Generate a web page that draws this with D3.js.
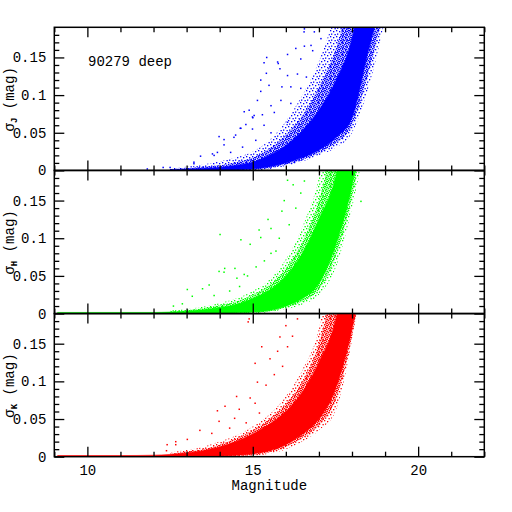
<!DOCTYPE html>
<html><head><meta charset="utf-8">
<script src="https://cdn.jsdelivr.net/npm/d3@7"></script>
<style>body{margin:0;background:#fff}</style>
</head><body>
<script>
// ---- data ----
const magGrid = [9.1, 10, 11, 12, 12.5, 13, 13.5, 14, 14.5, 15, 15.5, 16, 16.5, 17, 17.5, 18, 18.5, 19, 19.5];

// J band (sigma_J): dense core, inner scatter and outer scatter envelopes
const jCoreLo = [null,null,null,null, 0, 0, 0, 0, 0.001, 0.002, 0.005, 0.01, 0.017, 0.027, 0.043, 0.07, 0.16, 0.24, null];
const jCoreHi = [null,null,null,null, 0.001, 0.002, 0.003, 0.004, 0.007, 0.011, 0.02, 0.033, 0.053, 0.08, 0.118, 0.175, 0.3, 0.35, null];
const jMidLo  = [null,null,null,null, 0, 0, 0, 0, 0, 0.001, 0.003, 0.008, 0.014, 0.023, 0.036, 0.06, 0.13, 0.22, null];
const jMidHi  = [null,null,null,null, 0.002, 0.003, 0.005, 0.007, 0.011, 0.017, 0.029, 0.047, 0.073, 0.11, 0.16, 0.24, 0.35, 0.4, null];
const jHaloLo = [null,null,null,null, 0, 0, 0, 0, 0, 0, 0.002, 0.006, 0.012, 0.02, 0.03, 0.05, 0.11, 0.2, null];
const jHaloHi = [null,null,null,null, 0.003, 0.005, 0.008, 0.012, 0.017, 0.025, 0.04, 0.065, 0.1, 0.145, 0.21, 0.3, 0.4, 0.45, null];
const jOutliers = [[15.42,0.150],[15.82,0.135],[15.41,0.129],[15.88,0.111],[15.24,0.105],[15.49,0.113],[15.55,0.086],[15.04,0.073],[15.29,0.074],[14.64,0.056],[14.79,0.061],[14.13,0.041],[14.43,0.044],[13.98,0.045],[13.78,0.022],[13.42,0.019],[13.22,0.011],[16.35,0.128],[16.15,0.089],[16.55,0.184],[16.15,0.111],[16.62,0.124],[16.76,0.166],[17.06,0.175],[16.45,0.148],[15.14,0.093],[14.89,0.080],[16.05,0.064],[14.33,0.024],[13.93,0.024],[14.74,0.078],[14.62,0.056],[15.00,0.070],[13.22,0.009],[11.81,0.002],[12.29,0.004],[12.50,0.004],[16.56,0.188],[15.34,0.143],[16.05,0.154],[15.77,0.142],[16.56,0.165],[16.81,0.159],[14.99,0.071],[15.75,0.144],[15.24,0.120],[15.85,0.093],[15.65,0.077],[15.34,0.060],[14.99,0.055],[15.55,0.050],[14.48,0.047],[14.13,0.034],[13.83,0.020],[14.69,0.031],[15.09,0.040],[16.05,0.126],[16.30,0.162],[16.86,0.184],[16.45,0.109]];

// H band
const hCoreLo = [0, 0, 0, 0, 0, 0, 0, 0, 0.001, 0.002, 0.004, 0.01, 0.02, 0.04, 0.09, 0.17, 0.3, null, null];
const hCoreHi = [0.0015, 0.0015, 0.0015, 0.0015, 0.002, 0.003, 0.005, 0.008, 0.012, 0.02, 0.031, 0.05, 0.08, 0.125, 0.18, 0.3, 0.35, null, null];
const hMidLo  = [null,null,null,null, 0, 0, 0, 0, 0, 0.001, 0.003, 0.008, 0.016, 0.032, 0.075, 0.155, 0.28, null, null];
const hMidHi  = [null,null,null,null, 0.003, 0.0045, 0.007, 0.011, 0.016, 0.025, 0.038, 0.06, 0.095, 0.15, 0.24, 0.32, 0.38, null, null];
const hHaloLo = [null,null,null,null, 0, 0, 0, 0, 0, 0, 0.002, 0.006, 0.012, 0.025, 0.06, 0.14, 0.25, null, null];
const hHaloHi = [null,null,null,null, 0.004, 0.006, 0.009, 0.014, 0.02, 0.03, 0.045, 0.072, 0.115, 0.18, 0.3, 0.35, 0.4, null, null];
const hOutliers = [[16.05,0.177],[16.22,0.171],[16.56,0.176],[15.88,0.136],[15.46,0.125],[15.55,0.113],[15.19,0.111],[14.01,0.105],[14.64,0.098],[14.92,0.092],[15.24,0.101],[15.70,0.083],[15.55,0.080],[13.98,0.056],[14.13,0.055],[13.68,0.038],[14.74,0.052],[14.52,0.047],[13.02,0.032],[13.17,0.023],[12.87,0.013],[12.60,0.010],[13.83,0.024],[16.45,0.160],[18.27,0.149],[14.15,0.060],[14.46,0.060],[13.48,0.033],[14.84,0.050],[15.95,0.150],[16.30,0.140],[15.35,0.070],[15.10,0.062],[14.30,0.030],[14.60,0.036],[16.10,0.118],[15.80,0.100]];

// K band
const kCoreLo = [0, 0, 0, 0, 0, 0, 0, 0.001, 0.002, 0.004, 0.008, 0.016, 0.03, 0.05, 0.09, 0.17, 0.3, null, null];
const kCoreHi = [0.0015, 0.0015, 0.0015, 0.002, 0.003, 0.005, 0.008, 0.013, 0.02, 0.03, 0.043, 0.06, 0.086, 0.125, 0.18, 0.3, 0.35, null, null];
const kMidLo  = [null,null,null,null, 0, 0, 0, 0, 0.001, 0.002, 0.006, 0.013, 0.025, 0.042, 0.075, 0.16, 0.3, null, null];
const kMidHi  = [null,null,null,null, 0.004, 0.007, 0.01, 0.016, 0.024, 0.035, 0.05, 0.07, 0.1, 0.15, 0.24, 0.32, 0.38, null, null];
const kHaloLo = [null,null,null,null, 0, 0, 0, 0, 0, 0.001, 0.004, 0.01, 0.02, 0.035, 0.06, 0.155, 0.3, null, null];
const kHaloHi = [null,null,null,null, 0.006, 0.009, 0.013, 0.02, 0.028, 0.04, 0.056, 0.08, 0.115, 0.17, 0.3, 0.35, 0.4, null, null];
const kOutliers = [[14.89,0.183],[14.86,0.179],[16.00,0.174],[15.82,0.159],[15.27,0.146],[15.07,0.124],[15.52,0.130],[15.75,0.140],[15.14,0.099],[15.65,0.109],[14.92,0.078],[15.07,0.071],[13.93,0.061],[14.16,0.067],[14.45,0.051],[14.59,0.063],[13.98,0.047],[13.40,0.035],[13.76,0.031],[13.02,0.023],[12.67,0.016],[12.39,0.008],[16.05,0.146],[16.35,0.183],[14.51,0.080],[12.41,0.016],[12.67,0.020],[15.40,0.095],[15.90,0.120],[16.20,0.160],[14.80,0.045],[15.20,0.058],[14.30,0.038]];

const bandNames = ["J", "H", "K"];
const bandColors = ["#0000ff", "#00ff00", "#ff0000"];
const xMajor = [10, 15, 20];
const xMinor = [9, 11, 12, 13, 14, 16, 17, 18, 19, 21, 22];
const yMajor = [0, 0.05, 0.1, 0.15];
const yMinor = [0.01,0.02,0.03,0.04,0.06,0.07,0.08,0.09,0.11,0.12,0.13,0.14,0.16,0.17,0.18];
const xTitle = "Magnitude";
const annotation = "90279 deep";

// ---- layout ----
const W = 512, H = 512;
const L = 54.3, R = 484.3, T = 27.3, PH = 143.13;
const FONT = "'Liberation Mono', 'DejaVu Sans Mono', monospace";

const panels = [
  {coreLo: jCoreLo, coreHi: jCoreHi, midLo: jMidLo, midHi: jMidHi, haloLo: jHaloLo, haloHi: jHaloHi, out: jOutliers},
  {coreLo: hCoreLo, coreHi: hCoreHi, midLo: hMidLo, midHi: hMidHi, haloLo: hHaloLo, haloHi: hHaloHi, out: hOutliers},
  {coreLo: kCoreLo, coreHi: kCoreHi, midLo: kMidLo, midHi: kMidHi, haloLo: kHaloLo, haloHi: kHaloHi, out: kOutliers}
];

const svg = d3.select("body").append("svg").attr("width", W).attr("height", H)
  .style("background", "#fff");
const defs = svg.append("defs");

const x = d3.scaleLinear().domain([9, 22]).range([L, R]);

// stipple textures (styling only)
const sparseDots = [[0,0],[3,1],[1,3.5],[4.5,4]];
const denseDots = [[0,0],[2,0.6],[0.8,2],[2.8,2.6],[1.6,3.4]];

panels.forEach((p, i) => {
  const top = T + i * PH, bot = top + PH;
  const y = d3.scaleLinear().domain([0, 0.19]).range([bot, top]);
  const color = bandColors[i];

  defs.append("clipPath").attr("id", "clip" + i)
    .append("rect").attr("x", L).attr("y", top).attr("width", R - L).attr("height", PH);
  const patS = defs.append("pattern").attr("id", "patS" + i)
    .attr("patternUnits", "userSpaceOnUse").attr("width", 6).attr("height", 6);
  sparseDots.forEach(d => patS.append("rect").attr("x", d[0]).attr("y", d[1])
    .attr("width", 1.3).attr("height", 1.3).attr("fill", color));
  const patD = defs.append("pattern").attr("id", "patD" + i)
    .attr("patternUnits", "userSpaceOnUse").attr("width", 4).attr("height", 4);
  denseDots.forEach(d => patD.append("rect").attr("x", d[0]).attr("y", d[1])
    .attr("width", 1.4).attr("height", 1.4).attr("fill", color));

  const g = svg.append("g").attr("clip-path", `url(#clip${i})`);

  const mk = (lo, hi) => magGrid.map((m, k) => ({m, lo: lo[k], hi: hi[k]}));
  const area = d3.area()
    .defined(d => d.lo != null && d.hi != null)
    .x(d => x(d.m)).y0(d => y(d.lo)).y1(d => y(d.hi))
    .curve(d3.curveMonotoneX);

  g.append("path").datum(mk(p.haloLo, p.haloHi)).attr("d", area).attr("fill", `url(#patS${i})`);
  g.append("path").datum(mk(p.midLo, p.midHi)).attr("d", area).attr("fill", `url(#patD${i})`);
  g.append("path").datum(mk(p.coreLo, p.coreHi)).attr("d", area).attr("fill", color)
    .attr("stroke", color).attr("stroke-width", 0.6);

  g.selectAll("rect.pt").data(p.out).join("rect").attr("class", "pt")
    .attr("x", d => x(d[0]) - 0.7).attr("y", d => y(d[1]) - 0.7)
    .attr("width", 1.5).attr("height", 1.5).attr("fill", color);

  // axes (ticks inward on all four sides)
  const addAxis = (gen, tx, ty) => {
    const a = svg.append("g").attr("transform", `translate(${tx},${ty})`).call(gen);
    a.select(".domain").remove();
    a.selectAll("line").attr("stroke", "#000").attr("stroke-width", 1.3);
    a.selectAll("text").attr("font-family", FONT).attr("font-size", 14).attr("fill", "#000");
    return a;
  };
  addAxis(d3.axisBottom(x).tickValues(xMinor).tickSize(-5).tickFormat(""), 0, bot);
  addAxis(d3.axisBottom(x).tickValues(xMajor).tickSize(-10).tickPadding(8)
    .tickFormat(i === 2 ? d3.format("d") : ""), 0, bot);
  addAxis(d3.axisTop(x).tickValues(xMinor).tickSize(-5).tickFormat(""), 0, top);
  addAxis(d3.axisTop(x).tickValues(xMajor).tickSize(-10).tickFormat(""), 0, top);
  addAxis(d3.axisLeft(y).tickValues(yMinor).tickSize(-5).tickFormat(""), L, 0);
  addAxis(d3.axisLeft(y).tickValues(yMajor).tickSize(-10).tickPadding(8)
    .tickFormat(d => d === 0 ? "0" : String(d)), L, 0);
  addAxis(d3.axisRight(y).tickValues(yMinor).tickSize(-5).tickFormat(""), R, 0);
  addAxis(d3.axisRight(y).tickValues(yMajor).tickSize(-10).tickFormat(""), R, 0);

  svg.append("rect").attr("x", L).attr("y", top).attr("width", R - L).attr("height", PH)
    .attr("fill", "none").attr("stroke", "#000").attr("stroke-width", 1.5);

  // y title
  const cy = top + 72;
  const t = svg.append("text").attr("transform", `translate(14,${cy}) rotate(-90)`)
    .attr("text-anchor", "middle").attr("font-family", FONT).attr("font-size", 14).attr("fill", "#000");
  t.append("tspan").text("σ");
  t.append("tspan").attr("font-size", 9).attr("font-weight", "bold").attr("dy", 3).text(bandNames[i]);
  t.append("tspan").attr("dy", -3).text(" (mag)");
});

svg.append("text").attr("x", (L + R) / 2).attr("y", 490).attr("text-anchor", "middle")
  .attr("font-family", FONT).attr("font-size", 14).attr("fill", "#000").text(xTitle);
svg.append("text").attr("x", 88).attr("y", 65.5)
  .attr("font-family", FONT).attr("font-size", 14).attr("fill", "#000").text(annotation);
</script>
</body></html>
